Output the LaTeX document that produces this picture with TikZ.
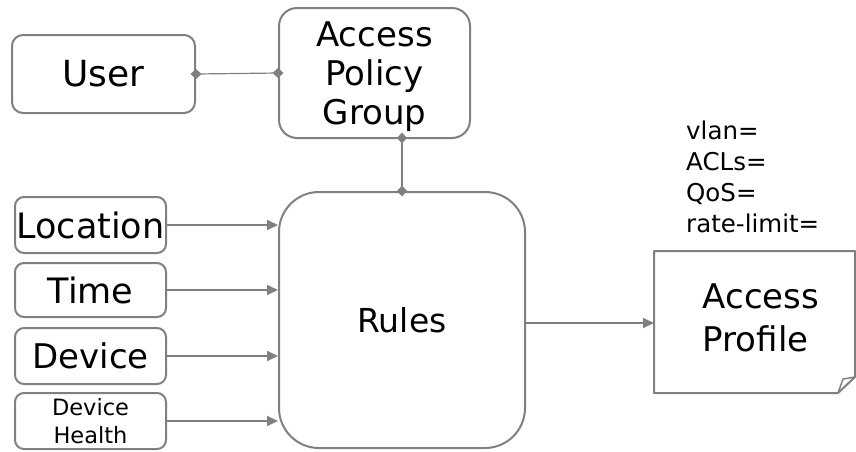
\documentclass[tikz,border=0pt]{standalone}
\usepackage{fontspec}
\setmainfont{DejaVu Sans}
\usetikzlibrary{arrows.meta}
\definecolor{edge}{HTML}{808080}
\tikzset{
  box/.style={draw=edge, line width=2pt, align=center, inner sep=0pt},
  link/.style={draw=edge, line width=1.8pt, -{Triangle[length=11pt,width=10pt]}},
  tie/.style={draw=edge, line width=1.2pt, shorten <=-5.5pt, shorten >=-5.5pt,
    {Diamond[length=11pt,width=10pt]}-{Diamond[length=11pt,width=10pt]}},
}
\begin{document}
\begin{tikzpicture}[x=1pt,y=-1pt]
\useasboundingbox (0,0) rectangle (856,451);
% rounded boxes, given by their corners
\node[box, rounded corners=11pt, minimum width=183pt, minimum height=78pt, font=\fontsize{36}{40}\selectfont]
  (user) at (103.5,74) {User};
\node[box, rounded corners=18pt, minimum width=191pt, minimum height=130pt, font=\fontsize{34}{39}\selectfont,
  text depth=0pt]
  (apg) at (374.5,73) {};
\node[align=center, inner sep=0pt, font=\fontsize{34}{39}\selectfont] (apgtext) at (374.5,77) {Access\\Policy\\Group};
\node[box, rounded corners=40pt, minimum width=246pt, minimum height=256pt, font=\fontsize{33}{38}\selectfont]
  (rules) at (402,320) {Rules};
\node[box, rounded corners=9pt, minimum width=151pt, minimum height=56pt, font=\fontsize{35}{38}\selectfont]
  (loc) at (90.5,225) {Location};
\node[box, rounded corners=9pt, minimum width=151pt, minimum height=54pt, font=\fontsize{35}{38}\selectfont]
  (time) at (90.5,290) {Time};
\node[box, rounded corners=9pt, minimum width=151pt, minimum height=56pt, font=\fontsize{34}{38}\selectfont]
  (dev) at (90.5,356) {Device};
\node[box, rounded corners=9pt, minimum width=151pt, minimum height=56pt, font=\fontsize{22.5}{28}\selectfont]
  (health) at (90.5,421) {Device\\Health};
% access profile sheet with a folded corner
\draw[draw=edge, line width=2pt, line join=round] (654,251) -- (855,251) -- (855,377) -- (838,393) -- (654,393) -- cycle;
\draw[draw=edge, line width=1.5pt, line join=round] (838,393) -- (843,379) -- (855,377);
\node[align=left, font=\fontsize{34}{43}\selectfont] (prof) at (761,318) {Access\\Profile};
\coordinate (profin) at (654,323);
% attribute list above the profile
\node[anchor=north west, align=left, inner sep=0pt, font=\fontsize{24.5}{31}\selectfont] (attrs) at (686,121)
  {vlan=\\ACLs=\\QoS=\\rate-limit=};
% connectors
\coordinate (apgfoot) at (402,138);
\draw[tie] (user.east) -- (apg.west);
\draw[tie] (apgfoot) -- (apgfoot |- rules.north);
\draw[link] (loc.east) -- (loc.east -| rules.west);
\draw[link] (time.east) -- (time.east -| rules.west);
\draw[link] (dev.east) -- (dev.east -| rules.west);
\draw[link] (health.east) -- (health.east -| rules.west);
\draw[link] (profin -| rules.east) -- (profin);
\end{tikzpicture}
\end{document}
